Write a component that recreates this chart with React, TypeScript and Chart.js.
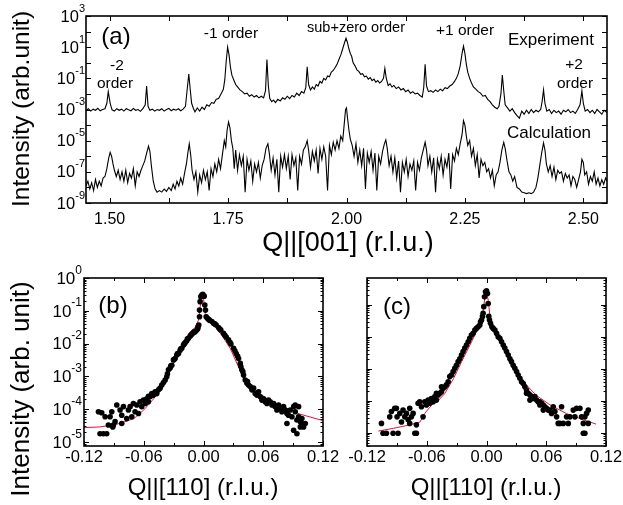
import React, { useEffect, useRef } from 'react';
import { Chart, registerables } from 'chart.js';

Chart.register(...registerables);

const W = 623;
const H = 505;
const FONT = '"Liberation Sans", Arial, Helvetica, sans-serif';

// ---------- tick values / labels ----------
const aXTicks = [1.5, 1.625, 1.75, 1.875, 2.0, 2.125, 2.25, 2.375, 2.5];
const aXLabels = [1.5, 1.75, 2.0, 2.25, 2.5];
const aYTickExps = [3, 2, 1, 0, -1, -2, -3, -4, -5, -6, -7, -8, -9];
const aYLabelExps = [3, 1, -1, -3, -5, -7, -9];
const bcXTicks = [-0.12, -0.09, -0.06, -0.03, 0, 0.03, 0.06, 0.09, 0.12];
const bcXLabels = [-0.12, -0.06, 0, 0.06, 0.12];
const bcYTickExps = [0, -1, -2, -3, -4, -5, -6];
const bYLabelExps = [0, -1, -2, -3, -4, -5];

// ---------- panel (a): Q||[001] scans ----------
const expPoints = [
  [1.450, 8.9e-4], [1.455, 1.12e-3], [1.460, 7.9e-4], [1.465, 1.05e-3], [1.470, 8.9e-4], [1.475, 1.2e-3], [1.480, 8.3e-4], [1.485, 1e-3], [1.490, 1.12e-3], [1.494, 2.5e-3],
  [1.497, 1.38e-2], [1.501, 2.5e-3], [1.505, 9.5e-4], [1.510, 7.9e-4], [1.515, 1.12e-3], [1.520, 8.9e-4], [1.525, 1.05e-3], [1.530, 7.9e-4], [1.535, 1.12e-3], [1.540, 9.5e-4],
  [1.545, 8.3e-4], [1.550, 1.17e-3], [1.555, 8.9e-4], [1.560, 1e-3], [1.565, 7.6e-4], [1.570, 1.12e-3], [1.575, 2e-3], [1.578, 3.2e-2], [1.581, 1.6e-3], [1.585, 8.9e-4],
  [1.590, 1.05e-3], [1.595, 7.9e-4], [1.600, 1e-3], [1.605, 8.9e-4], [1.610, 1.12e-3], [1.615, 7.9e-4], [1.620, 1e-3], [1.625, 1.17e-3], [1.630, 8.3e-4], [1.635, 1.05e-3],
  [1.640, 9.1e-4], [1.645, 1.12e-3], [1.650, 8.3e-4], [1.655, 1.05e-3], [1.660, 1.6e-3], [1.664, 2.5e-2], [1.667, 0.19], [1.670, 2e-2], [1.673, 2.5e-3], [1.677, 1.12e-3],
  [1.680, 7.1e-4], [1.685, 1.26e-3], [1.690, 7.9e-4], [1.695, 1.4e-3], [1.700, 1e-3], [1.705, 2e-3], [1.710, 1.6e-3], [1.715, 2.8e-3], [1.720, 2.5e-3], [1.725, 4.5e-3],
  [1.730, 5e-3], [1.735, 1e-2], [1.740, 2e-2], [1.743, 7.9e-2], [1.746, 1.26], [1.749, 10], [1.752, 3.2], [1.755, 0.5], [1.758, 0.16], [1.762, 7.9e-2],
  [1.766, 4e-2], [1.770, 2.8e-2], [1.775, 1.8e-2], [1.780, 1.4e-2], [1.785, 1e-2], [1.790, 1.12e-2], [1.795, 7.1e-3], [1.800, 8.9e-3], [1.805, 6.3e-3], [1.810, 7.9e-3],
  [1.815, 5.6e-3], [1.820, 7.1e-3], [1.825, 5.6e-3], [1.829, 1.6e-2], [1.832, 1.6], [1.835, 3.2e-2], [1.838, 5e-3], [1.842, 3.2e-3], [1.846, 4e-3], [1.850, 2.8e-3],
  [1.855, 4.5e-3], [1.860, 3.5e-3], [1.865, 5.6e-3], [1.870, 4.5e-3], [1.875, 7.1e-3], [1.880, 5e-3], [1.885, 7.9e-3], [1.890, 6.3e-3], [1.895, 1.12e-2], [1.900, 7.9e-3],
  [1.905, 1.4e-2], [1.910, 1.12e-2], [1.914, 2.5e-2], [1.917, 0.56], [1.920, 4e-2], [1.924, 1.8e-2], [1.928, 2.8e-2], [1.932, 2e-2], [1.936, 4e-2], [1.940, 3.2e-2],
  [1.944, 6.3e-2], [1.948, 5e-2], [1.952, 0.1], [1.956, 7.9e-2], [1.960, 0.14], [1.964, 0.126], [1.968, 0.25], [1.972, 0.32], [1.976, 0.5], [1.980, 0.79],
  [1.984, 1.6], [1.988, 3.2], [1.992, 7.9], [1.996, 20], [1.999, 37], [2.002, 20], [2.005, 7.9], [2.008, 4], [2.011, 2.5], [2.014, 1],
  [2.018, 0.63], [2.022, 0.35], [2.026, 0.28], [2.030, 0.18], [2.034, 0.2], [2.038, 0.126], [2.042, 0.14], [2.046, 8.9e-2], [2.050, 0.112], [2.054, 7.1e-2],
  [2.058, 8.9e-2], [2.062, 5.6e-2], [2.066, 7.1e-2], [2.070, 5e-2], [2.074, 6.3e-2], [2.078, 0.1], [2.081, 0.44], [2.084, 0.1], [2.088, 3.5e-2], [2.092, 4.5e-2],
  [2.096, 2.8e-2], [2.100, 3.5e-2], [2.105, 2.2e-2], [2.110, 2.8e-2], [2.115, 1.8e-2], [2.120, 2.2e-2], [2.125, 1.4e-2], [2.130, 1.8e-2], [2.135, 1.12e-2], [2.140, 1.4e-2],
  [2.145, 1e-2], [2.150, 1.12e-2], [2.155, 7.9e-3], [2.160, 6.3e-3], [2.163, 2.5e-2], [2.166, 0.79], [2.169, 3.2e-2], [2.173, 1.4e-2], [2.178, 1.6e-2], [2.183, 1.26e-2],
  [2.188, 1.8e-2], [2.193, 1.4e-2], [2.198, 2e-2], [2.203, 1.6e-2], [2.208, 2.5e-2], [2.213, 2.2e-2], [2.218, 3.2e-2], [2.223, 4e-2], [2.228, 6.3e-2], [2.232, 0.1],
  [2.236, 0.2], [2.240, 0.63], [2.244, 4], [2.247, 11.7], [2.250, 4], [2.253, 0.79], [2.256, 0.25], [2.260, 0.1], [2.264, 5e-2], [2.268, 2.8e-2],
  [2.273, 2e-2], [2.278, 1.4e-2], [2.283, 1.12e-2], [2.288, 7.1e-3], [2.293, 7.9e-3], [2.298, 4.5e-3], [2.303, 3.2e-3], [2.308, 2e-3], [2.313, 1.4e-3], [2.318, 1.12e-3],
  [2.322, 1.6e-3], [2.326, 1e-2], [2.329, 0.16], [2.332, 1.6e-2], [2.335, 2e-3], [2.340, 1.26e-3], [2.345, 7.9e-4], [2.350, 1.12e-3], [2.355, 6.3e-4], [2.360, 4e-4],
  [2.365, 2.8e-4], [2.370, 7.9e-4], [2.375, 5e-4], [2.380, 8.9e-4], [2.385, 5.6e-4], [2.390, 1e-3], [2.395, 6.3e-4], [2.400, 8.9e-4], [2.405, 7.1e-4], [2.410, 1e-3],
  [2.413, 3.2e-3], [2.416, 1.8e-2], [2.419, 2.5e-3], [2.423, 7.9e-4], [2.428, 1e-3], [2.433, 5.6e-4], [2.438, 8.9e-4], [2.443, 6.3e-4], [2.448, 7.9e-4], [2.453, 5e-4],
  [2.458, 8.9e-4], [2.463, 7.1e-4], [2.468, 1e-3], [2.473, 6.3e-4], [2.478, 7.9e-4], [2.483, 5.6e-4], [2.488, 1e-3], [2.493, 2e-3], [2.497, 1.55e-2], [2.500, 2.5e-3],
  [2.504, 7.9e-4], [2.509, 1e-3], [2.514, 6.3e-4], [2.519, 8.9e-4], [2.524, 5.6e-4], [2.529, 1e-3], [2.534, 7.1e-4], [2.539, 5e-4], [2.544, 8.9e-4], [2.550, 6.3e-4],
];

const calcPoints = [
  [1.450, 1.26e-8], [1.454, 2.5e-8], [1.458, 7.9e-9], [1.462, 2e-8], [1.466, 6.3e-9], [1.470, 3.2e-8], [1.474, 1e-8], [1.478, 2.5e-8], [1.482, 1.26e-8], [1.486, 4e-8],
  [1.490, 5e-8], [1.494, 1.6e-7], [1.498, 7.9e-7], [1.501, 1.8e-6], [1.504, 1e-6], [1.507, 3.2e-7], [1.510, 1.26e-7], [1.514, 5e-8], [1.518, 1.26e-7], [1.522, 3.2e-8],
  [1.526, 1e-7], [1.530, 2.5e-8], [1.534, 1.26e-7], [1.538, 2e-8], [1.542, 7.9e-8], [1.546, 4e-8], [1.550, 1.6e-7], [1.554, 1.26e-8], [1.558, 1e-7], [1.562, 5e-8],
  [1.566, 1.26e-7], [1.570, 2.5e-7], [1.574, 5e-7], [1.578, 1.6e-6], [1.582, 4.5e-6], [1.585, 2e-6], [1.588, 2.5e-7], [1.592, 2.5e-8], [1.596, 7.9e-9], [1.600, 5e-9],
  [1.605, 6.3e-9], [1.610, 5e-9], [1.615, 7.9e-9], [1.620, 5.6e-9], [1.625, 1e-8], [1.630, 6.3e-9], [1.634, 1.6e-8], [1.638, 7.9e-9], [1.642, 2.5e-8], [1.646, 1.26e-8],
  [1.650, 4e-8], [1.654, 1.6e-8], [1.658, 7.9e-8], [1.662, 3.2e-7], [1.665, 1.6e-6], [1.668, 6.3e-6], [1.671, 1.26e-6], [1.674, 1.26e-7], [1.678, 3.2e-8], [1.682, 1e-7],
  [1.686, 5e-9], [1.690, 6.3e-8], [1.694, 2e-8], [1.698, 1.26e-7], [1.702, 3.2e-8], [1.706, 1e-7], [1.710, 6.3e-9], [1.714, 1.6e-7], [1.718, 5e-8], [1.722, 3.2e-7],
  [1.726, 1e-7], [1.730, 6.3e-7], [1.734, 1.6e-7], [1.738, 1.26e-6], [1.742, 1e-5], [1.745, 4e-6], [1.748, 5e-5], [1.751, 1.6e-4], [1.754, 6.3e-5], [1.757, 1e-5],
  [1.760, 3.2e-6], [1.763, 1.6e-7], [1.766, 2.5e-6], [1.770, 1.26e-7], [1.774, 1.26e-6], [1.778, 2.5e-7], [1.782, 1e-6], [1.786, 5e-9], [1.790, 6.3e-7], [1.794, 1.26e-7],
  [1.798, 5e-7], [1.802, 2.5e-8], [1.806, 3.2e-7], [1.810, 1e-7], [1.814, 4e-7], [1.818, 4e-8], [1.822, 2.5e-7], [1.826, 6.3e-7], [1.830, 3.2e-6], [1.834, 6.3e-6],
  [1.837, 1.6e-6], [1.841, 1.26e-7], [1.845, 7.9e-7], [1.849, 6.3e-8], [1.853, 6.3e-7], [1.857, 5e-9], [1.861, 1e-6], [1.865, 2e-7], [1.869, 1.26e-6], [1.873, 1.6e-7],
  [1.877, 1e-6], [1.881, 3.2e-8], [1.885, 1.26e-6], [1.889, 2.5e-7], [1.893, 7.9e-7], [1.897, 6.3e-9], [1.901, 1e-6], [1.905, 3.2e-7], [1.909, 2.5e-6], [1.913, 4e-6],
  [1.917, 1e-5], [1.920, 2.5e-6], [1.924, 2e-7], [1.928, 2e-6], [1.932, 5e-7], [1.936, 2.5e-6], [1.940, 7.9e-8], [1.944, 3.2e-6], [1.948, 6.3e-7], [1.952, 4e-6],
  [1.956, 1e-6], [1.960, 6.3e-9], [1.964, 5e-6], [1.968, 1.26e-6], [1.972, 7.9e-6], [1.976, 2.5e-6], [1.980, 1e-5], [1.984, 3.2e-6], [1.988, 2e-5], [1.992, 1e-5],
  [1.995, 1e-4], [1.998, 1e-3], [2.000, 1.26e-3], [2.002, 3.2e-4], [2.005, 5e-5], [2.008, 1.26e-5], [2.012, 5e-6], [2.016, 1e-6], [2.020, 6.3e-6], [2.024, 4e-7],
  [2.028, 2.5e-6], [2.032, 2.5e-7], [2.036, 3.2e-6], [2.040, 7.9e-9], [2.044, 1.6e-6], [2.048, 4e-7], [2.052, 2e-6], [2.056, 1.26e-7], [2.060, 1.6e-6], [2.064, 6.3e-9],
  [2.068, 1e-6], [2.072, 3.2e-7], [2.076, 2e-6], [2.080, 6.3e-6], [2.083, 1.12e-5], [2.086, 3.2e-6], [2.090, 2.5e-7], [2.094, 1e-6], [2.098, 1e-7], [2.102, 7.9e-7],
  [2.106, 4e-8], [2.110, 5e-7], [2.114, 5e-9], [2.118, 4e-7], [2.122, 1e-7], [2.126, 6.3e-7], [2.130, 5e-8], [2.134, 3.2e-7], [2.138, 1.26e-7], [2.142, 5e-7],
  [2.146, 6.3e-9], [2.150, 4e-7], [2.154, 1.26e-7], [2.158, 7.9e-7], [2.162, 2.5e-6], [2.166, 7.9e-6], [2.169, 2.5e-6], [2.172, 2.5e-7], [2.176, 1e-6], [2.180, 1e-7],
  [2.184, 7.9e-7], [2.188, 5e-9], [2.192, 6.3e-7], [2.196, 1.6e-7], [2.200, 1e-6], [2.204, 6.3e-8], [2.208, 6.3e-7], [2.212, 2e-7], [2.216, 1.6e-6], [2.220, 7.9e-9],
  [2.224, 1.26e-6], [2.228, 5e-7], [2.232, 3.2e-6], [2.236, 1.26e-6], [2.240, 6.3e-6], [2.244, 2.5e-5], [2.247, 1.9e-4], [2.250, 1e-4], [2.253, 2e-5], [2.256, 5e-6],
  [2.260, 1e-5], [2.264, 1e-6], [2.268, 3.2e-6], [2.272, 2.5e-7], [2.276, 1.26e-6], [2.280, 4e-8], [2.284, 6.3e-7], [2.288, 2.5e-7], [2.292, 4e-7], [2.296, 1e-7],
  [2.300, 1.6e-7], [2.304, 4e-8], [2.308, 1.26e-7], [2.312, 1.26e-8], [2.316, 6.3e-8], [2.320, 1e-7], [2.324, 4e-7], [2.328, 2.5e-6], [2.332, 7.9e-6], [2.335, 3.2e-6],
  [2.339, 5e-7], [2.343, 1e-7], [2.347, 6.3e-8], [2.351, 2.5e-8], [2.355, 5e-8], [2.360, 1e-8], [2.365, 7.9e-9], [2.370, 5e-9], [2.375, 4.5e-9], [2.380, 4e-9],
  [2.385, 4.5e-9], [2.390, 4e-9], [2.395, 5e-9], [2.400, 1e-8], [2.404, 4e-8], [2.408, 2.5e-7], [2.412, 1.6e-6], [2.416, 7.1e-6], [2.419, 2.5e-6], [2.422, 3.2e-7],
  [2.426, 1e-7], [2.430, 2.5e-7], [2.434, 5e-8], [2.438, 2e-7], [2.442, 3.2e-8], [2.446, 1.26e-7], [2.450, 7.9e-8], [2.454, 1e-7], [2.458, 2.5e-8], [2.462, 7.9e-8],
  [2.466, 4e-8], [2.470, 6.3e-8], [2.474, 1.26e-8], [2.478, 5e-8], [2.482, 3.2e-8], [2.486, 1e-8], [2.490, 3.2e-8], [2.494, 1e-7], [2.497, 6.3e-7], [2.500, 4e-7],
  [2.503, 6.3e-8], [2.507, 1e-7], [2.511, 1.6e-8], [2.515, 5e-8], [2.519, 2.5e-8], [2.523, 1e-7], [2.527, 1.6e-8], [2.531, 4e-8], [2.535, 1.26e-8], [2.539, 3.2e-8],
  [2.543, 1.6e-8], [2.547, 4e-8], [2.550, 2.5e-8],
];

// ---------- panel (b): Q||[110] scan, experiment dots + fit ----------
const bDots = [
  [-0.1055, 8.4e-5], [-0.1039, 1.8e-5], [-0.1005, 1.8e-5], [-0.0972, 1.8e-5], [-0.1022, 7.8e-5], [-0.0988, 5.9e-5], [-0.0955, 3.3e-5], [-0.0938, 5.9e-5],
  [-0.0921, 8.4e-5], [-0.0911, 2.9e-5], [-0.0905, 3.3e-5], [-0.0888, 4.2e-5], [-0.0871, 1.35e-4], [-0.0838, 9.5e-5], [-0.0821, 6.6e-5], [-0.0821, 3.7e-5],
  [-0.0804, 1.2e-4], [-0.0771, 5.2e-5], [-0.0754, 9.5e-5], [-0.0737, 1.2e-4], [-0.0720, 5.9e-5], [-0.0704, 1.5e-4], [-0.0687, 8.4e-5], [-0.0670, 1.35e-4],
  [-0.0653, 7.4e-5], [-0.0637, 1.7e-4], [-0.0620, 1.2e-4], [-0.0603, 1.9e-4], [-0.0586, 1.5e-4], [-0.0570, 2.1e-4], [-0.0553, 1.7e-4], [-0.0553, 2.5e-4],
  [-0.0536, 2.4e-4], [-0.0519, 3.0e-4], [-0.0503, 2.7e-4], [-0.0486, 3.4e-4], [-0.0469, 3.0e-4], [-0.0452, 3.9e-4], [-0.0436, 4.4e-4], [-0.0419, 5.5e-4],
  [-0.0402, 6.5e-4], [-0.0385, 7.8e-4], [-0.0369, 9.8e-4], [-0.0362, 1.2e-3], [-0.0352, 1.6e-3], [-0.0335, 1.8e-3], [-0.0328, 2.1e-3], [-0.0318, 2.2e-3],
  [-0.0302, 3.2e-3], [-0.0295, 3.3e-3], [-0.0285, 3.5e-3], [-0.0268, 4.5e-3], [-0.0261, 5.0e-3], [-0.0251, 5.0e-3], [-0.0235, 6.3e-3], [-0.0228, 7.0e-3],
  [-0.0218, 7.2e-3], [-0.0201, 9.1e-3], [-0.0194, 9.8e-3], [-0.0184, 1.07e-2], [-0.0168, 1.23e-2], [-0.0161, 1.4e-2], [-0.0151, 1.45e-2], [-0.0134, 1.7e-2],
  [-0.0127, 1.8e-2], [-0.0117, 1.95e-2], [-0.0101, 2.15e-2], [-0.0094, 2.3e-2], [-0.0084, 2.3e-2], [-0.0067, 2.6e-2], [-0.0057, 2.9e-2], [-0.0054, 3.3e-2],
  [-0.0047, 3.7e-2], [-0.0040, 6.6e-2], [-0.0040, 0.105], [-0.0034, 0.19], [-0.0027, 0.27], [-0.0017, 0.30], [-0.0007, 0.32], [0.0007, 0.28],
  [0.0013, 0.15], [0.0020, 0.105], [0.0027, 6.6e-2], [0.0040, 5.9e-2], [0.0050, 5.5e-2], [0.0060, 5.2e-2], [0.0084, 4.7e-2], [0.0101, 4.2e-2],
  [0.0114, 4.0e-2], [0.0127, 3.7e-2], [0.0151, 3.1e-2], [0.0164, 2.8e-2], [0.0174, 2.6e-2], [0.0201, 2.05e-2], [0.0214, 1.8e-2], [0.0228, 1.6e-2],
  [0.0251, 1.3e-2], [0.0265, 1.1e-2], [0.0275, 9.8e-3], [0.0302, 7.2e-3], [0.0315, 6.1e-3], [0.0328, 5.0e-3], [0.0342, 4.2e-3], [0.0352, 3.5e-3],
  [0.0369, 2.5e-3], [0.0375, 2.0e-3], [0.0385, 1.6e-3], [0.0395, 1.4e-3], [0.0402, 1.1e-3], [0.0419, 7.8e-4], [0.0436, 6.2e-4], [0.0442, 7.0e-4],
  [0.0452, 5.5e-4], [0.0469, 4.9e-4], [0.0486, 3.9e-4], [0.0503, 4.4e-4], [0.0519, 3.0e-4], [0.0536, 2.7e-4], [0.0553, 3.4e-4], [0.0570, 2.4e-4],
  [0.0586, 1.9e-4], [0.0603, 2.1e-4], [0.0620, 1.7e-4], [0.0637, 1.5e-4], [0.0653, 1.9e-4], [0.0670, 1.7e-4], [0.0687, 1.35e-4], [0.0704, 1.5e-4],
  [0.0720, 1.2e-4], [0.0737, 9.5e-5], [0.0754, 1.35e-4], [0.0771, 1.07e-4], [0.0787, 8.4e-5], [0.0804, 1.2e-4], [0.0821, 9.5e-5], [0.0838, 7.4e-5],
  [0.0838, 3.7e-5], [0.0854, 6.6e-5], [0.0871, 9.5e-5], [0.0888, 5.9e-5], [0.0905, 1.2e-4], [0.0905, 2.3e-5], [0.0921, 8.4e-5], [0.0921, 1.35e-4],
  [0.0938, 4.7e-5], [0.0938, 1.8e-5], [0.0955, 5.9e-5], [0.0955, 1.2e-4], [0.0972, 4.2e-5], [0.0972, 2.9e-5], [0.0988, 5.2e-5], [0.0988, 3.7e-5],
  [0.1005, 2.9e-5], [0.1022, 3.7e-5],
];

const bFit = [
  [-0.12, 2.75e-5], [-0.104, 2.9e-5], [-0.087, 3.5e-5], [-0.070, 5.2e-5], [-0.060, 9.5e-5], [-0.050, 2.1e-4], [-0.040, 6.2e-4], [-0.0335, 1.6e-3],
  [-0.0268, 3.8e-3], [-0.020, 9.1e-3], [-0.0134, 2.3e-2], [-0.0084, 3.1e-2], [-0.005, 5.2e-2], [-0.0034, 0.13], [-0.0017, 0.27], [0, 0.24],
  [0.0017, 0.083], [0.005, 0.052], [0.0117, 0.033], [0.0184, 0.018], [0.0268, 7.2e-3], [0.035, 2.0e-3], [0.042, 8.7e-4], [0.050, 4.3e-4],
  [0.0637, 2.1e-4], [0.080, 1.2e-4], [0.097, 7.1e-5], [0.12, 4.5e-5],
];

// ---------- panel (c): Q||[110] scan, experiment dots + fit ----------
const cDots = [
  [-0.1055, 2.0e-5], [-0.1039, 9.8e-6], [-0.1005, 9.8e-6], [-0.0972, 3.2e-5], [-0.0955, 4.7e-5], [-0.0938, 9.8e-6], [-0.0921, 5.9e-5], [-0.0905, 5.9e-5],
  [-0.0898, 3.2e-5], [-0.0888, 9.8e-6], [-0.0871, 4.1e-5], [-0.0854, 2.2e-5], [-0.0838, 5.2e-5], [-0.0821, 3.2e-5], [-0.0804, 4.1e-5], [-0.0787, 2.6e-5],
  [-0.0771, 5.9e-5], [-0.0771, 2.0e-5], [-0.0754, 3.2e-5], [-0.0737, 4.1e-5], [-0.0720, 9.8e-6], [-0.0704, 9.8e-6], [-0.0704, 1.8e-5], [-0.0687, 8.5e-5],
  [-0.0670, 9.5e-5], [-0.0653, 6.6e-5], [-0.0637, 3.2e-5], [-0.0620, 9.5e-5], [-0.0603, 7.5e-5], [-0.0586, 1.07e-4], [-0.0570, 8.5e-5], [-0.0553, 1.2e-4],
  [-0.0536, 9.5e-5], [-0.0519, 1.38e-4], [-0.0503, 1.07e-4], [-0.0503, 1.74e-4], [-0.0486, 1.55e-4], [-0.0469, 1.74e-4], [-0.0452, 1.95e-4], [-0.0452, 2.8e-4],
  [-0.0436, 2.5e-4], [-0.0419, 2.8e-4], [-0.0402, 3.2e-4], [-0.0385, 4.0e-4], [-0.0369, 5.8e-4], [-0.0352, 6.5e-4], [-0.0335, 8.3e-4], [-0.0318, 1.05e-3],
  [-0.0302, 1.3e-3], [-0.0285, 1.7e-3], [-0.0268, 2.1e-3], [-0.0251, 2.75e-3], [-0.0235, 3.5e-3], [-0.0218, 4.5e-3], [-0.0201, 5.6e-3], [-0.0184, 7.1e-3],
  [-0.0168, 9.1e-3], [-0.0151, 1.15e-2], [-0.0134, 1.3e-2], [-0.0117, 1.65e-2], [-0.0101, 1.86e-2], [-0.0084, 2.1e-2], [-0.0067, 2.36e-2], [-0.0060, 3.0e-2],
  [-0.0050, 3.4e-2], [-0.0040, 4.4e-2], [-0.0034, 5.5e-2], [-0.0027, 8.9e-2], [-0.0020, 0.18], [-0.0010, 0.26], [0, 0.28], [0.0010, 0.23],
  [0.0017, 0.112], [0.0023, 4.4e-2], [0.0030, 3.4e-2], [0.0040, 2.7e-2], [0.0054, 2.1e-2], [0.0067, 1.86e-2], [0.0084, 1.65e-2], [0.0101, 1.3e-2],
  [0.0117, 1.02e-2], [0.0134, 9.1e-3], [0.0151, 7.1e-3], [0.0168, 5.6e-3], [0.0184, 4.5e-3], [0.0201, 3.5e-3], [0.0218, 2.75e-3], [0.0235, 2.1e-3],
  [0.0251, 1.7e-3], [0.0268, 1.3e-3], [0.0285, 1.05e-3], [0.0302, 8.3e-4], [0.0318, 6.5e-4], [0.0335, 5.1e-4], [0.0352, 4.0e-4], [0.0369, 3.5e-4],
  [0.0385, 2.8e-4], [0.0402, 2.2e-4], [0.0402, 1.74e-4], [0.0419, 1.74e-4], [0.0436, 1.55e-4], [0.0436, 1.07e-4], [0.0452, 1.38e-4], [0.0469, 1.2e-4],
  [0.0486, 1.38e-4], [0.0503, 1.07e-4], [0.0519, 9.5e-5], [0.0536, 9.5e-5], [0.0536, 7.5e-5], [0.0553, 8.5e-5], [0.0570, 7.5e-5], [0.0570, 5.2e-5],
  [0.0586, 6.6e-5], [0.0603, 5.9e-5], [0.0620, 5.2e-5], [0.0637, 5.2e-5], [0.0653, 4.1e-5], [0.0670, 6.6e-5], [0.0687, 4.7e-5], [0.0704, 3.2e-5],
  [0.0720, 2.0e-5], [0.0737, 2.0e-5], [0.0754, 6.6e-5], [0.0771, 2.0e-5], [0.0804, 3.2e-5], [0.0821, 2.0e-5], [0.0838, 3.2e-5], [0.0871, 5.2e-5],
  [0.0888, 3.2e-5], [0.0905, 5.9e-5], [0.0938, 5.9e-5], [0.0955, 3.2e-5], [0.0972, 2.0e-5], [0.0988, 3.2e-5], [0.1005, 4.1e-5], [0.1022, 5.2e-5],
  [0.1022, 2.0e-5], [0.0972, 9.8e-6], [0.0988, 9.8e-6],
];

const cFit = [
  [-0.1086, 1.15e-5], [-0.0935, 1.4e-5], [-0.077, 1.8e-5], [-0.0668, 2.2e-5], [-0.062, 4.1e-5], [-0.055, 7.5e-5], [-0.048, 1.07e-4], [-0.042, 1.7e-4],
  [-0.033, 5.1e-4], [-0.025, 1.7e-3], [-0.0166, 5.6e-3], [-0.0099, 1.5e-2], [-0.0049, 3.0e-2], [-0.0032, 0.07], [-0.0015, 0.18], [0, 0.24],
  [0.0018, 0.14], [0.0035, 0.043], [0.0069, 0.019], [0.0135, 0.010], [0.0202, 3.9e-3], [0.027, 1.3e-3], [0.037, 4.0e-4], [0.050, 1.5e-4],
  [0.064, 7.5e-5], [0.080, 4.1e-5], [0.097, 2.6e-5], [0.110, 1.9e-5],
];

const RED = '#e8103c';

type TextItem = { t: string; x: number; y: number; size: number; rot?: boolean };
type Deco = {
  xTicks: number[];
  xMajorEvery?: number;
  xLabels: number[];
  xLabelY: number;
  xFont: number;
  yExps: number[];
  yMinor: boolean;
  yLabelExps: number[];
  yLabelRight: number;
  yFont: number;
  texts: TextItem[];
};

function makeDeco(cfg: Deco) {
  return {
    id: 'deco',
    afterDraw(chart: any) {
      const ctx: CanvasRenderingContext2D = chart.ctx;
      const { left, right, top, bottom } = chart.chartArea;
      const xs = chart.scales.x;
      const ys = chart.scales.y;
      ctx.save();
      ctx.fillStyle = '#000';
      ctx.strokeStyle = '#000';
      ctx.lineWidth = 1;
      ctx.beginPath();
      cfg.xTicks.forEach((v, i) => {
        const px = Math.round(xs.getPixelForValue(v)) + 0.5;
        const isMajor = cfg.xMajorEvery ? i % cfg.xMajorEvery === 0 : true;
        const len = isMajor ? 5 : 3;
        ctx.moveTo(px, bottom);
        ctx.lineTo(px, bottom - len);
        ctx.moveTo(px, top);
        ctx.lineTo(px, top + len);
      });
      cfg.yExps.forEach((e) => {
        const v = Math.pow(10, e);
        if (v >= ys.min * 0.999 && v <= ys.max * 1.001) {
          const py = Math.round(ys.getPixelForValue(v)) + 0.5;
          ctx.moveTo(left, py);
          ctx.lineTo(left + 5, py);
          ctx.moveTo(right, py);
          ctx.lineTo(right - 5, py);
        }
        if (cfg.yMinor) {
          for (let k = 2; k <= 9; k++) {
            const mv = k * Math.pow(10, e);
            if (mv > ys.min && mv < ys.max) {
              const py = Math.round(ys.getPixelForValue(mv)) + 0.5;
              ctx.moveTo(left, py);
              ctx.lineTo(left + 2.5, py);
              ctx.moveTo(right, py);
              ctx.lineTo(right - 2.5, py);
            }
          }
        }
      });
      ctx.stroke();
      ctx.lineWidth = 1.6;
      ctx.strokeRect(left, top, right - left, bottom - top);

      ctx.font = `${cfg.xFont}px ${FONT}`;
      ctx.textAlign = 'center';
      ctx.textBaseline = 'middle';
      cfg.xLabels.forEach((v) => {
        ctx.fillText(v.toFixed(2), xs.getPixelForValue(v), cfg.xLabelY);
      });
      cfg.yLabelExps.forEach((e) => {
        const py = ys.getPixelForValue(Math.pow(10, e));
        const sup = String(e);
        ctx.font = `${Math.round(cfg.yFont * 0.68)}px ${FONT}`;
        const sw = ctx.measureText(sup).width;
        ctx.textAlign = 'left';
        ctx.textBaseline = 'middle';
        ctx.fillText(sup, cfg.yLabelRight - sw, py - cfg.yFont * 0.45);
        ctx.font = `${cfg.yFont}px ${FONT}`;
        ctx.textAlign = 'right';
        ctx.fillText('10', cfg.yLabelRight - sw, py + 1);
      });
      cfg.texts.forEach((it) => {
        ctx.font = `${it.size}px ${FONT}`;
        ctx.textAlign = 'center';
        ctx.textBaseline = 'middle';
        if (it.rot) {
          ctx.save();
          ctx.translate(it.x, it.y);
          ctx.rotate(-Math.PI / 2);
          ctx.fillText(it.t, 0, 0);
          ctx.restore();
        } else {
          ctx.fillText(it.t, it.x, it.y);
        }
      });
      ctx.restore();
    },
  };
}

const toXY = (arr: number[][]) => arr.map(([x, y]) => ({ x, y }));

function baseOptions(padding: any, xMin: number, xMax: number, yMin: number, yMax: number) {
  return {
    responsive: false,
    animation: false,
    devicePixelRatio: 1,
    layout: { padding },
    scales: {
      x: { type: 'linear', min: xMin, max: xMax, display: false },
      y: { type: 'logarithmic', min: yMin, max: yMax, display: false },
    },
    plugins: { legend: { display: false }, tooltip: { enabled: false } },
  };
}

export default function App() {
  const refA = useRef<HTMLCanvasElement>(null);
  const refB = useRef<HTMLCanvasElement>(null);
  const refC = useRef<HTMLCanvasElement>(null);

  useEffect(() => {
    const charts: Chart[] = [];
    const lineDs = (data: number[][], color: string, width: number) => ({
      data: toXY(data),
      showLine: true,
      borderColor: color,
      borderWidth: width,
      pointRadius: 0,
      tension: 0,
      fill: false,
    });
    const dotDs = (data: number[][]) => ({
      data: toXY(data),
      showLine: false,
      pointRadius: 2.8,
      pointBackgroundColor: '#000',
      pointBorderWidth: 0,
      borderColor: '#000',
    });

    charts.push(
      new Chart(refA.current as HTMLCanvasElement, {
        type: 'scatter',
        data: { datasets: [lineDs(expPoints, '#000', 1.1), lineDs(calcPoints, '#000', 1.1)] as any },
        options: baseOptions({ left: 86, top: 16, right: W - 607, bottom: H - 203 }, 1.45, 2.55, 1e-9, 1e3) as any,
        plugins: [
          makeDeco({
            xTicks: aXTicks,
            xLabels: aXLabels,
            xLabelY: 220,
            xFont: 16,
            yExps: aYTickExps,
            yMinor: false,
            yLabelExps: aYLabelExps,
            yLabelRight: 85,
            yFont: 16.5,
            texts: [
              { t: '(a)', x: 116, y: 37, size: 24 },
              { t: '-2', x: 117, y: 66, size: 15.5 },
              { t: 'order', x: 115, y: 84, size: 15.5 },
              { t: '-1 order', x: 231, y: 34, size: 15.5 },
              { t: 'sub+zero order', x: 356, y: 28, size: 14.5 },
              { t: '+1 order', x: 465, y: 31, size: 15.5 },
              { t: 'Experiment', x: 551, y: 40, size: 17 },
              { t: '+2', x: 574, y: 65, size: 15.5 },
              { t: 'order', x: 575, y: 84, size: 15.5 },
              { t: 'Calculation', x: 549, y: 133, size: 17 },
              { t: 'Q||[001] (r.l.u.)', x: 348, y: 244, size: 27 },
              { t: 'Intensity (arb.unit)', x: 22, y: 109, size: 24.5, rot: true },
            ],
          }),
        ],
      })
    );

    charts.push(
      new Chart(refB.current as HTMLCanvasElement, {
        type: 'scatter',
        data: { datasets: [dotDs(bDots), lineDs(bFit, RED, 1)] as any },
        options: baseOptions({ left: 84, top: 278, right: W - 323, bottom: H - 446 }, -0.12, 0.12, 7.6e-6, 1) as any,
        plugins: [
          makeDeco({
            xTicks: bcXTicks,
            xMajorEvery: 2,
            xLabels: bcXLabels,
            xLabelY: 457,
            xFont: 16.5,
            yExps: bcYTickExps,
            yMinor: true,
            yLabelExps: bYLabelExps,
            yLabelRight: 82,
            yFont: 17,
            texts: [
              { t: '(b)', x: 113, y: 306, size: 24 },
              { t: 'Q||[110] (r.l.u.)', x: 203, y: 488, size: 24 },
              { t: 'Intensity (arb. unit)', x: 22, y: 389, size: 26, rot: true },
            ],
          }),
        ],
      })
    );

    charts.push(
      new Chart(refC.current as HTMLCanvasElement, {
        type: 'scatter',
        data: { datasets: [dotDs(cDots), lineDs(cFit, RED, 1)] as any },
        options: baseOptions({ left: 367, top: 278, right: W - 606, bottom: H - 446 }, -0.12, 0.12, 3.93e-6, 0.698) as any,
        plugins: [
          makeDeco({
            xTicks: bcXTicks,
            xMajorEvery: 2,
            xLabels: bcXLabels,
            xLabelY: 457,
            xFont: 16.5,
            yExps: bcYTickExps,
            yMinor: true,
            yLabelExps: [],
            yLabelRight: 0,
            yFont: 17,
            texts: [
              { t: '(c)', x: 397, y: 307, size: 24 },
              { t: 'Q||[110] (r.l.u.)', x: 486, y: 488, size: 24 },
            ],
          }),
        ],
      })
    );

    return () => charts.forEach((c) => c.destroy());
  }, []);

  const cv: React.CSSProperties = { position: 'absolute', left: 0, top: 0 };
  return (
    <div style={{ position: 'absolute', left: 0, top: 0, width: W, height: H, background: '#fff' }}>
      <canvas ref={refA} width={W} height={H} style={cv} />
      <canvas ref={refB} width={W} height={H} style={cv} />
      <canvas ref={refC} width={W} height={H} style={cv} />
    </div>
  );
}
